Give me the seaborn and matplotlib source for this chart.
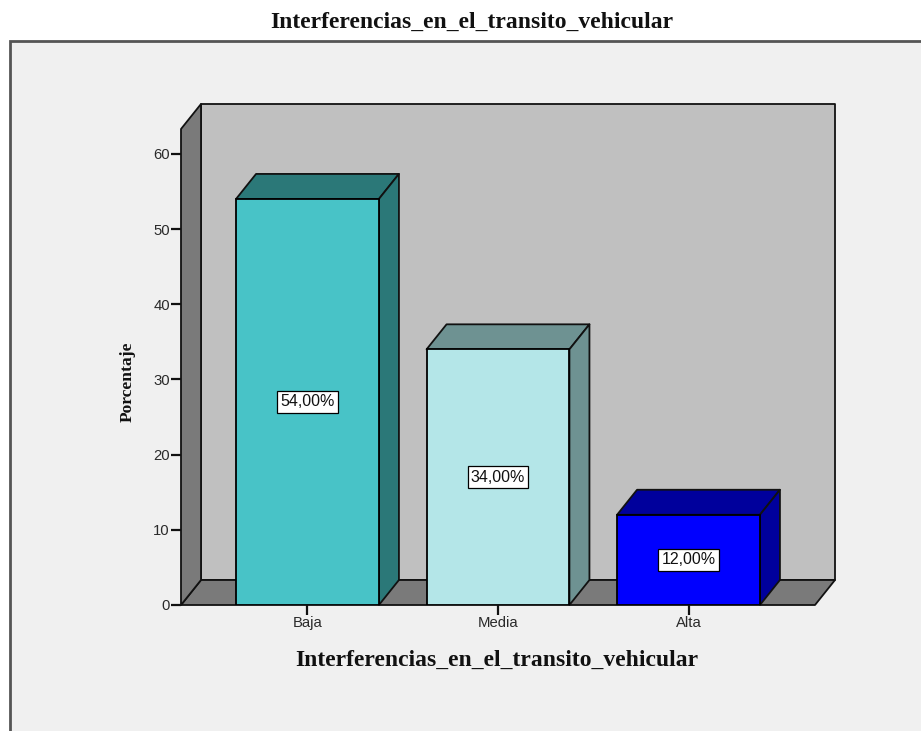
import matplotlib
matplotlib.use("Agg")
import matplotlib.pyplot as plt
import seaborn as sns
from matplotlib.patches import Polygon, Rectangle

categories = ["Baja", "Media", "Alta"]
percentages = [54.0, 34.0, 12.0]
front_colors = ["#48C3C7", "#B4E6E8", "#0000FF"]
shade_colors = ["#2B7878", "#6E9292", "#00009C"]
yticks = [0, 10, 20, 30, 40, 50, 60]
title = "Interferencias_en_el_transito_vehicular"
ylabel = "Porcentaje"

sns.set_theme(style="white")
plt.rcParams["font.family"] = ["Liberation Sans", "DejaVu Sans"]
SERIF = ["Liberation Serif", "DejaVu Serif"]

W, H = 921, 731
fig = plt.figure(figsize=(W / 100, H / 100), dpi=100)
fig.patch.set_facecolor("white")

# chart frame
fig.patches.append(Rectangle((10 / W, -0.1), 1.2, 1 - 41 / H + 0.1,
                             transform=fig.transFigure, facecolor="#F0F0F0",
                             edgecolor="#555555", linewidth=2, zorder=-5))

ax = fig.add_axes([181 / W, (H - 605) / H, 634 / W, 476 / H])
ax.set_zorder(2)
ax.set_facecolor("none")

XLIM = (-0.664, 2.664)
YLIM = (0, 63.3)
dx = 20 / 634 * (XLIM[1] - XLIM[0])
dy = 25 / 476 * (YLIM[1] - YLIM[0])

sns.barplot(x=categories, y=percentages, hue=categories, palette=front_colors,
            legend=False, width=0.75, edgecolor="black", linewidth=1.3,
            saturation=1, ax=ax, zorder=4)
ax.set_xlim(*XLIM)
ax.set_ylim(*YLIM)

edge = dict(edgecolor="#111111", linewidth=1.3, clip_on=False, joinstyle="round")
x0, x1 = XLIM
ytop = YLIM[1]
# back wall, floor and left wall of the box
ax.add_patch(Polygon([(x0 + dx, dy), (x1 + dx, dy), (x1 + dx, ytop + dy), (x0 + dx, ytop + dy)],
                     facecolor="#C0C0C0", zorder=1, **edge))
ax.add_patch(Polygon([(x0, 0), (x1, 0), (x1 + dx, dy), (x0 + dx, dy)],
                     facecolor="#7A7A7A", zorder=1.5, **edge))
ax.add_patch(Polygon([(x0, 0), (x0, ytop), (x0 + dx, ytop + dy), (x0 + dx, dy)],
                     facecolor="#7A7A7A", zorder=1.5, **edge))

bars = [p for p in ax.patches if isinstance(p, Rectangle)][:len(categories)]
for bar, shade in zip(bars, shade_colors):
    bx, bw, bh = bar.get_x(), bar.get_width(), bar.get_height()
    ax.add_patch(Polygon([(bx, bh), (bx + bw, bh), (bx + bw + dx, bh + dy), (bx + dx, bh + dy)],
                         facecolor=shade, zorder=3, **edge))
    ax.add_patch(Polygon([(bx + bw, 0), (bx + bw + dx, dy), (bx + bw + dx, bh + dy), (bx + bw, bh)],
                         facecolor=shade, zorder=3, **edge))
    ax.text(bx + bw / 2, bh / 2, f"{bh:.2f}%".replace(".", ","), ha="center", va="center",
            fontsize=11.5, color="#111111", zorder=6,
            bbox=dict(boxstyle="square,pad=0.2", facecolor="white", edgecolor="black", linewidth=0.9))

for s in ax.spines.values():
    s.set_visible(False)
ax.set_yticks(yticks)
ax.set_yticklabels([str(t) for t in yticks])
ax.tick_params(axis="both", left=True, bottom=True, direction="out", length=7, width=1.6,
               color="#111111", labelsize=10.7, labelcolor="#2A2A2A", pad=1)
ax.set_xlabel("")
ax.set_ylabel("")

fig.text(472 / W, 1 - 22 / H, title, ha="center", va="center", fontsize=17,
         fontweight="bold", family=SERIF, color="#111111")
fig.text(497 / W, 1 - 660 / H, title, ha="center", va="center", fontsize=17,
         fontweight="bold", family=SERIF, color="#111111")
fig.text(128 / W, 1 - 382 / H, ylabel, ha="center", va="center", rotation=90, fontsize=12.6,
         fontweight="bold", family=SERIF, color="#111111")

fig.savefig("out.png", dpi=100, facecolor="white")
